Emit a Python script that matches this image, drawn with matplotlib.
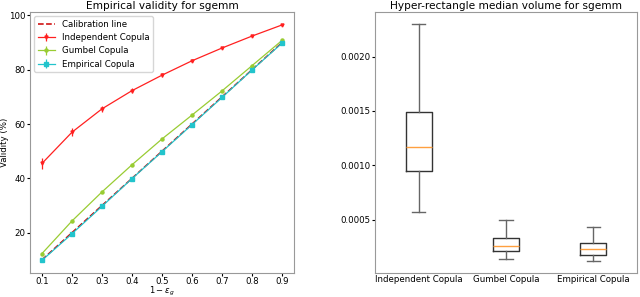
import matplotlib
matplotlib.use("Agg")
import matplotlib.pyplot as plt

# ***** Data ***** #

levels = [0.1, 0.2, 0.3, 0.4, 0.5, 0.6, 0.7, 0.8, 0.9]
calibration = [10, 20, 30, 40, 50, 60, 70, 80, 90]
independent = [45.5, 57.0, 65.6, 72.3, 78.0, 83.3, 88.0, 92.4, 96.5]
independent_err = [2.0, 1.5, 1.2, 1.0, 0.7, 0.6, 0.5, 0.5, 0.4]
gumbel = [12.3, 24.3, 35.0, 45.0, 54.5, 63.3, 72.2, 81.5, 90.8]
gumbel_err = [0.4, 0.4, 0.4, 0.4, 0.4, 0.3, 0.3, 0.3, 0.3]
empirical = [9.8, 19.6, 29.7, 39.9, 49.8, 59.8, 69.8, 79.9, 89.8]
empirical_err = [0.3, 0.3, 0.3, 0.3, 0.3, 0.3, 0.3, 0.3, 0.3]

box_labels = ["Independent Copula", "Gumbel Copula", "Empirical Copula"]
box_whislo = [0.00057, 0.00014, 0.00012]
box_q1 = [0.00095, 0.00021, 0.00018]
box_med = [0.00117, 0.00026, 0.00023]
box_q3 = [0.00149, 0.00033, 0.00029]
box_whishi = [0.00230, 0.00050, 0.00043]

# ***** Plot ***** #

plt.rcParams['font.size'] = 6.2
fig = plt.figure(figsize=(6.4, 2.97), dpi=100)

ax1 = fig.add_axes([30/640, 24/297, 264/640, 261/297])
ax1.plot(levels, calibration, '--', color='#cc0000', lw=1.1, label='Calibration line')
ax1.errorbar(levels, independent, yerr=independent_err, color='#ff2020', marker='v',
             markersize=2.2, lw=0.9, label='Independent Copula')
ax1.errorbar(levels, gumbel, yerr=gumbel_err, color='#99cc33', marker='o',
             markersize=2.2, lw=0.9, label='Gumbel Copula')
ax1.errorbar(levels, empirical, yerr=empirical_err, color='#22c4cc', marker='s',
             markersize=2.2, lw=0.9, label='Empirical Copula')
ax1.set_xticks(levels)
ax1.set_yticks([20, 40, 60, 80, 100])
ax1.set_xlabel(r'$1-\epsilon_g$', fontsize=6)
ax1.set_ylabel('Validity (%)')
ax1.xaxis.set_label_coords(0.5, -0.047)
ax1.yaxis.set_label_coords(-0.078, 0.5)
ax1.set_title('Empirical validity for sgemm', fontsize=7.6, pad=2.5)
ax1.legend(loc='upper left', fontsize=6.2)
ax1.tick_params(length=2, pad=1.2)
ax1.tick_params(axis='x', pad=0.6)

ax2 = fig.add_axes([375/640, 24/297, 262/640, 261/297])
stats = []
for i in range(len(box_labels)):
    stats.append({'label': box_labels[i], 'whislo': box_whislo[i], 'q1': box_q1[i],
                  'med': box_med[i], 'q3': box_q3[i], 'whishi': box_whishi[i], 'fliers': []})
ax2.bxp(stats, widths=0.3,
        boxprops=dict(color='#333333', lw=1),
        whiskerprops=dict(color='#666666', lw=1),
        capprops=dict(color='#666666', lw=1),
        medianprops=dict(color='#ffa040', lw=1))
ax2.set_yticks([0.0005, 0.0010, 0.0015, 0.0020])
ax2.set_title('Hyper-rectangle median volume for sgemm', fontsize=7.6, pad=2.5)
ax2.tick_params(length=2, pad=1.2)
ax2.tick_params(axis='x', length=0)

for ax in (ax1, ax2):
    for s in ax.spines.values():
        s.set_color('#999999')

fig.savefig('out.png', dpi=100)
